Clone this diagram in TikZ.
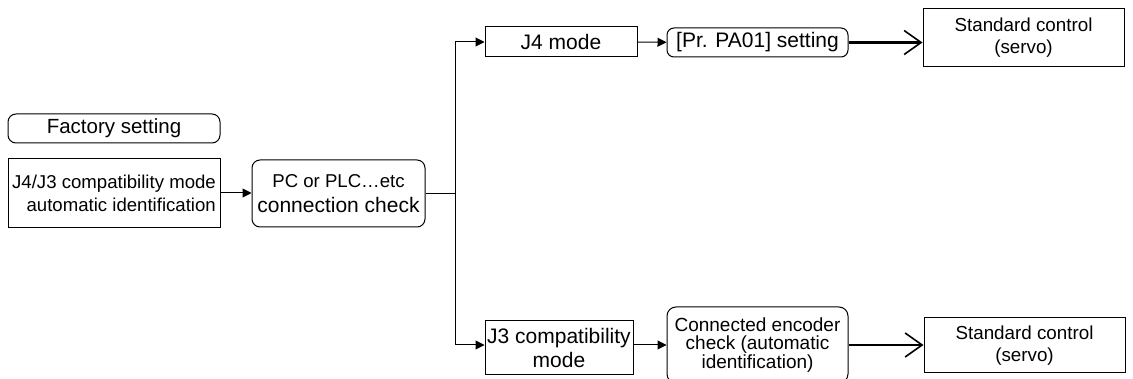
\documentclass[tikz,border=0pt]{standalone}
\usepackage{fontspec}
\setmainfont{Liberation Sans}
\usetikzlibrary{arrows.meta}

\begin{document}
\begin{tikzpicture}[
        x=1pt, y=-1pt,
        box/.style={draw, line width=1pt, inner sep=0pt, align=center, fill=white},
        rbox/.style={box, rounded corners=8pt},
        arr/.style={-{Triangle[length=9pt,width=9pt]}, line width=1pt},
        bigarr/.style={-{Straight Barb[length=17pt,width=24pt,line width=1.6pt]}, line width=2.2pt}
    ]
        \path[use as bounding box, clip] (0,0) rectangle (1133,379);

        % Columna izquierda
        \node[rbox, minimum width=212pt, minimum height=29pt, font=\fontsize{20.5}{24}\selectfont] (factory) at (114,128.5) {Factory setting};
        \node[box, minimum width=212pt, minimum height=69pt, align=right, font=\fontsize{18.6}{23}\selectfont] (ident) at (114,193) {J4/J3 compatibility mode\\automatic identification};
        \node[rbox, minimum width=173pt, minimum height=67pt, font=\fontsize{21}{25}\selectfont] (pc) at (338.5,193.5) {{\fontsize{18.6}{25}\selectfont PC or PLC…etc}\\connection check};

        % Rama superior (J4)
        \node[box, minimum width=152pt, minimum height=30pt, font=\fontsize{21}{25}\selectfont] (j4) at (561,42) {J4 mode};
        \node[rbox, rounded corners=7pt, minimum width=181pt, minimum height=29pt, font=\fontsize{21}{25}\selectfont] (pa01) at (757.5,42.5) {[Pr. PA01] setting};
        \node[box, minimum width=201pt, minimum height=58pt, font=\fontsize{18.8}{22}\selectfont] (std1) at (1023.5,38) {Standard control\\(servo)};

        % Rama inferior (J3)
        \node[box, minimum width=148pt, minimum height=54pt, font=\fontsize{21}{24}\selectfont] (j3) at (559,348) {J3 compatibility\\mode};
        \node[rbox, rounded corners=9pt, minimum width=181pt, minimum height=76pt, font=\fontsize{19}{18.5}\selectfont] (enc) at (757.5,345) {Connected encoder\\check (automatic\\identification)};
        \node[box, minimum width=201pt, minimum height=55pt, font=\fontsize{18.8}{22}\selectfont] (std2) at (1024.5,345.5) {Standard control\\(servo)};

        % Conexiones
        \coordinate (split) at (455,193.5);
        \draw[arr] (ident.east) -- (ident.east -| pc.west);
        \draw[line width=1pt] (pc.east) -- (split);
        \draw[arr] (split) |- (j4.west);
        \draw[arr] (split) |- ([yshift=3pt]j3.west);
        \draw[arr] (j4) -- (pa01);
        \draw[arr] ([yshift=3pt]j3.east) -- ([yshift=3pt]j3.east -| enc.west);
        \draw[bigarr] (pa01.east) -- (pa01.east -| std1.west);
        \draw[bigarr] (enc.east) -- (enc.east -| std2.west);
    \end{tikzpicture}
\end{document}
